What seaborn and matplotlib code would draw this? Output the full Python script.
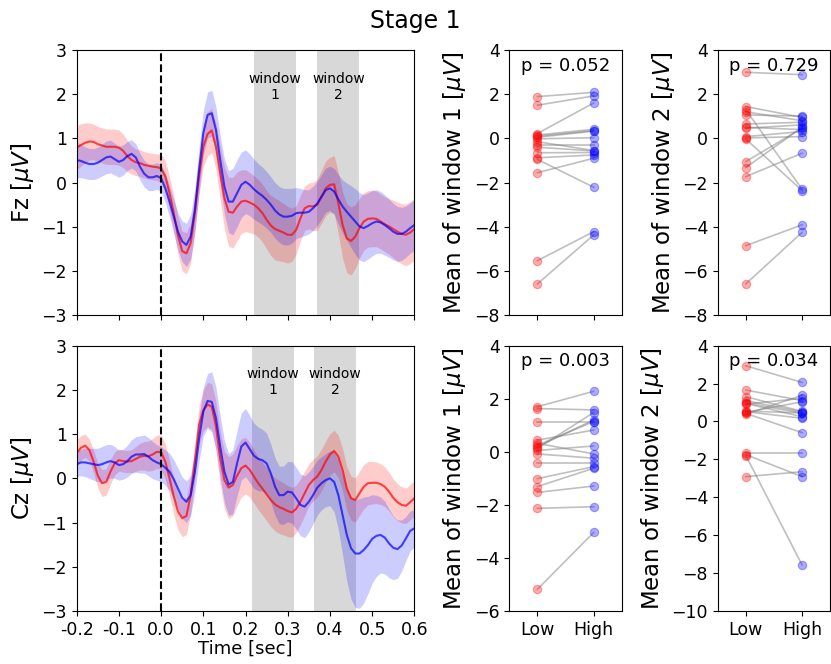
import numpy as np
import seaborn as sns
import matplotlib
matplotlib.use('Agg')
import matplotlib.pyplot as plt

# sample times of the averaged waveforms (sec)
times = np.linspace(-0.2, 0.6, 81)

# ---- Fz grand averages (uV) and their error band half widths ----
fz_low = [0.79, 0.85, 0.90, 0.93, 0.92, 0.87, 0.84, 0.81, 0.81, 0.81,
          0.79, 0.72, 0.60, 0.51, 0.46, 0.44, 0.40, 0.38, 0.36, 0.35,
          0.32, 0.14, -0.24, -0.69, -1.20, -1.55, -1.60, -1.37, -0.69, 0.14,
          0.81, 1.10, 1.18, 0.81, 0.21, -0.35, -0.66, -0.68, -0.54, -0.43,
          -0.41, -0.45, -0.50, -0.58, -0.69, -0.84, -0.97, -1.05, -1.09, -1.13,
          -1.18, -1.18, -1.07, -0.81, -0.58, -0.53, -0.54, -0.50, -0.32, -0.13,
          -0.05, -0.04, -0.47, -0.96, -1.26, -1.32, -1.22, -1.03, -0.88, -0.82,
          -0.81, -0.82, -0.88, -0.94, -0.99, -1.05, -1.11, -1.16, -1.18, -1.13,
          -1.05]
fz_high = [0.51, 0.49, 0.45, 0.42, 0.42, 0.45, 0.51, 0.57, 0.59, 0.53,
           0.47, 0.51, 0.60, 0.65, 0.57, 0.36, 0.20, 0.12, 0.12, 0.15,
           0.10, -0.13, -0.43, -0.77, -1.11, -1.33, -1.41, -1.22, -0.62, 0.29,
           1.12, 1.53, 1.57, 1.19, 0.51, -0.09, -0.43, -0.43, -0.24, -0.05,
           0.02, -0.05, -0.15, -0.23, -0.30, -0.39, -0.50, -0.63, -0.72, -0.77,
           -0.77, -0.75, -0.69, -0.68, -0.68, -0.66, -0.58, -0.47, -0.32, -0.17,
           -0.13, -0.20, -0.38, -0.54, -0.66, -0.77, -0.88, -0.99, -1.03, -0.98,
           -0.92, -0.88, -0.90, -0.96, -1.03, -1.11, -1.16, -1.16, -1.11, -1.03,
           -0.96]
fz_low_err = [0.50, 0.48, 0.45, 0.42, 0.40, 0.40, 0.40, 0.40, 0.40, 0.40,
              0.40, 0.38, 0.35, 0.32, 0.30, 0.30, 0.30, 0.30, 0.30, 0.30,
              0.32, 0.35, 0.38, 0.40, 0.42, 0.45, 0.47, 0.45, 0.42, 0.40,
              0.45, 0.50, 0.50, 0.52, 0.60, 0.70, 0.78, 0.80, 0.78, 0.72,
              0.70, 0.68, 0.66, 0.65, 0.65, 0.66, 0.68, 0.70, 0.68, 0.66,
              0.64, 0.60, 0.55, 0.52, 0.50, 0.52, 0.55, 0.58, 0.60, 0.62,
              0.62, 0.65, 0.70, 0.75, 0.78, 0.77, 0.72, 0.68, 0.65, 0.64,
              0.64, 0.63, 0.62, 0.62, 0.63, 0.65, 0.67, 0.68, 0.70, 0.70,
              0.70]
fz_high_err = [0.40, 0.38, 0.36, 0.35, 0.35, 0.35, 0.36, 0.37, 0.37, 0.36,
               0.35, 0.34, 0.33, 0.32, 0.31, 0.30, 0.30, 0.30, 0.30, 0.30,
               0.30, 0.32, 0.35, 0.38, 0.42, 0.46, 0.49, 0.50, 0.50, 0.50,
               0.50, 0.52, 0.52, 0.52, 0.55, 0.62, 0.70, 0.75, 0.76, 0.74,
               0.72, 0.70, 0.68, 0.66, 0.65, 0.64, 0.63, 0.63, 0.63, 0.64,
               0.64, 0.62, 0.58, 0.55, 0.52, 0.50, 0.50, 0.50, 0.50, 0.50,
               0.50, 0.52, 0.56, 0.60, 0.65, 0.70, 0.74, 0.76, 0.76, 0.75,
               0.74, 0.72, 0.70, 0.68, 0.66, 0.64, 0.62, 0.60, 0.58, 0.57,
               0.57]

# ---- Cz grand averages (uV) and their error band half widths ----
cz_low = [0.57, 0.69, 0.74, 0.64, 0.38, 0.06, -0.11, -0.08, 0.15, 0.34,
          0.41, 0.39, 0.38, 0.39, 0.44, 0.49, 0.51, 0.50, 0.54, 0.60,
          0.59, 0.38, 0.00, -0.41, -0.75, -0.90, -0.85, -0.38, 0.38, 1.21,
          1.54, 1.67, 1.62, 1.17, 0.45, -0.04, -0.21, -0.15, 0.06, 0.23,
          0.29, 0.19, 0.04, -0.11, -0.23, -0.36, -0.49, -0.59, -0.65, -0.69,
          -0.74, -0.77, -0.69, -0.53, -0.34, -0.15, -0.04, 0.04, 0.19, 0.38,
          0.54, 0.62, 0.49, 0.19, -0.23, -0.45, -0.49, -0.34, -0.19, -0.11,
          -0.10, -0.10, -0.13, -0.19, -0.30, -0.44, -0.54, -0.60, -0.62, -0.54,
          -0.45]
cz_high = [0.32, 0.36, 0.36, 0.34, 0.32, 0.30, 0.32, 0.36, 0.39, 0.36,
           0.30, 0.32, 0.39, 0.49, 0.54, 0.54, 0.55, 0.49, 0.41, 0.36,
           0.32, 0.24, 0.15, -0.02, -0.23, -0.44, -0.53, -0.38, 0.15, 0.90,
           1.51, 1.75, 1.73, 1.36, 0.72, 0.15, -0.14, -0.08, 0.34, 0.72,
           0.81, 0.66, 0.51, 0.44, 0.41, 0.34, 0.11, -0.19, -0.38, -0.38,
           -0.30, -0.32, -0.45, -0.60, -0.64, -0.53, -0.38, -0.21, -0.11, -0.04,
           0.00, -0.08, -0.38, -0.83, -1.28, -1.58, -1.70, -1.70, -1.62, -1.51,
           -1.37, -1.30, -1.28, -1.34, -1.47, -1.57, -1.60, -1.52, -1.36, -1.19,
           -1.13]
cz_low_err = [0.30, 0.28, 0.26, 0.25, 0.26, 0.28, 0.30, 0.30, 0.28, 0.26,
              0.25, 0.25, 0.25, 0.26, 0.28, 0.30, 0.32, 0.34, 0.36, 0.38,
              0.39, 0.40, 0.40, 0.41, 0.42, 0.42, 0.42, 0.42, 0.42, 0.44,
              0.46, 0.50, 0.52, 0.55, 0.60, 0.65, 0.70, 0.70, 0.68, 0.66,
              0.64, 0.62, 0.60, 0.60, 0.60, 0.60, 0.60, 0.60, 0.60, 0.59,
              0.58, 0.56, 0.54, 0.52, 0.50, 0.48, 0.47, 0.47, 0.47, 0.47,
              0.47, 0.47, 0.48, 0.48, 0.49, 0.50, 0.50, 0.50, 0.50, 0.49,
              0.48, 0.47, 0.46, 0.45, 0.44, 0.43, 0.42, 0.41, 0.40, 0.40,
              0.40]
cz_high_err = [0.28, 0.30, 0.32, 0.34, 0.36, 0.38, 0.40, 0.40, 0.38, 0.36,
               0.34, 0.34, 0.36, 0.38, 0.40, 0.42, 0.43, 0.43, 0.42, 0.40,
               0.40, 0.40, 0.42, 0.44, 0.46, 0.47, 0.47, 0.46, 0.46, 0.50,
               0.55, 0.62, 0.68, 0.70, 0.70, 0.70, 0.70, 0.72, 0.74, 0.76,
               0.77, 0.76, 0.74, 0.72, 0.70, 0.68, 0.66, 0.65, 0.65, 0.66,
               0.68, 0.70, 0.70, 0.70, 0.70, 0.68, 0.65, 0.62, 0.60, 0.60,
               0.62, 0.68, 0.78, 0.90, 1.05, 1.15, 1.22, 1.24, 1.20, 1.10,
               1.00, 0.92, 0.86, 0.82, 0.78, 0.72, 0.66, 0.58, 0.50, 0.45,
               0.42]

# analysis windows (sec)
fz_windows = [(0.22, 0.32), (0.37, 0.47)]
cz_windows = [(0.215, 0.315), (0.362, 0.462)]

# ---- per subject window means (uV) ----
fz_w1_low = [1.89, 1.50, 0.22, 0.15, 0.05, -0.02, -0.30, -0.40, -0.65, -0.88, -0.95, -1.55, -5.53, -6.58, 0.10, -0.15]
fz_w1_high = [2.08, 1.92, 1.60, 0.41, 0.33, 0.03, -0.30, -0.57, -0.64, -0.75, -2.21, -0.90, -4.22, -4.37, 0.35, -0.55]
fz_w2_low = [2.99, 1.44, 1.29, 1.06, 0.65, 0.46, 0.08, 0.02, -0.03, -1.05, -1.32, -1.73, -4.85, -6.58, 1.20, 0.50]
fz_w2_high = [2.88, 0.95, -2.30, 1.01, 0.73, 0.61, 0.31, 0.08, -2.36, 0.46, 0.50, -0.67, -3.91, -4.25, 0.80, 0.40]
cz_w1_low = [1.70, 1.63, 1.14, 0.44, 0.32, 0.19, 0.13, 0.25, -0.08, -0.43, -1.01, -1.31, -1.53, -2.13, -5.18, 0.05]
cz_w1_high = [2.28, 1.58, 1.14, 0.82, -0.08, 1.20, 1.48, 1.14, -0.24, -0.43, -0.56, -0.62, -1.29, -2.07, -3.04, 0.22]
cz_w2_low = [2.94, 1.66, 1.31, 0.99, 0.92, 0.52, 0.43, 0.39, 0.55, 0.48, 0.95, -1.68, -1.75, -1.80, -2.91, 1.10]
cz_w2_high = [2.06, 1.10, 0.53, 0.43, 1.22, 0.17, -0.59, 1.38, 0.45, 1.04, 0.25, -1.68, -2.91, -7.57, -2.65, 0.50]

p_values = ['0.052', '0.729', '0.003', '0.034']
cond_labels = ['Low', 'High']
time_ticks = [-0.2, -0.1, 0.0, 0.1, 0.2, 0.3, 0.4, 0.5, 0.6]
time_ticklabels = ['-0.2', '-0.1', '0.0', '0.1', '0.2', '0.3', '0.4', '0.5', '0.6']

fig = plt.figure(figsize=(8.31, 6.64), dpi=100)
fig.suptitle('Stage 1', fontsize=17, y=0.968, va='center')

TICK = 12.5
LAB = 16.5

rows = [
    ('Fz', fz_low, fz_high, fz_low_err, fz_high_err, fz_windows, 0.5252,
     [(fz_w1_low, fz_w1_high, p_values[0], (-8, 4)), (fz_w2_low, fz_w2_high, p_values[1], (-8, 4))]),
    ('Cz', cz_low, cz_high, cz_low_err, cz_high_err, cz_windows, 0.0798,
     [(cz_w1_low, cz_w1_high, p_values[2], (-6, 4)), (cz_w2_low, cz_w2_high, p_values[3], (-10, 4))]),
]

for r, (chan, low, high, low_err, high_err, wins, bottom, scat) in enumerate(rows):
    ax = fig.add_axes([0.0923, bottom, 0.4063, 0.3996])
    for i, (a, b) in enumerate(wins):
        ax.axvspan(a, b, color='gray', alpha=0.3, lw=0)
        ax.text((a + b) / 2, 2.17, 'window\n%d' % (i + 1), ha='center', va='center',
                fontsize=10, multialignment='center')
    low = np.array(low)
    high = np.array(high)
    ax.fill_between(times, low - np.array(low_err), low + np.array(low_err), color='red', alpha=0.2, lw=0)
    ax.fill_between(times, high - np.array(high_err), high + np.array(high_err), color='blue', alpha=0.2, lw=0)
    sns.lineplot(x=times, y=low, ax=ax, color='red', alpha=0.7, lw=1.5)
    sns.lineplot(x=times, y=high, ax=ax, color='blue', alpha=0.7, lw=1.5)
    ax.axvline(0, color='k', ls='--', lw=1.5)
    ax.set_xlim(-0.2, 0.6)
    ax.set_ylim(-3, 3)
    ax.set_yticks([-3, -2, -1, 0, 1, 2, 3])
    ax.set_xticks(time_ticks)
    if r == 1:
        ax.set_xticklabels(time_ticklabels)
        ax.set_xlabel('Time [sec]', fontsize=13, labelpad=1)
    else:
        ax.set_xticklabels([])
    ax.set_ylabel(chan + r' [$\mu V$]', fontsize=LAB)
    ax.tick_params(labelsize=TICK)

    for j, (wl, wh, p, ylim) in enumerate(scat):
        left = 0.6129 if j == 0 else 0.8637
        sax = fig.add_axes([left, bottom, 0.1353, 0.3996])
        for a, b in zip(wl, wh):
            sax.plot([0, 1], [a, b], color='gray', alpha=0.5, lw=1.2, zorder=1)
        sns.scatterplot(x=[0] * len(wl), y=wl, ax=sax, color='red', edgecolor='red',
                        alpha=0.33, s=36, linewidth=0.8, zorder=2)
        sns.scatterplot(x=[1] * len(wh), y=wh, ax=sax, color='blue', edgecolor='blue',
                        alpha=0.33, s=36, linewidth=0.8, zorder=2)
        sax.set_xlim(-0.5, 1.5)
        sax.set_ylim(*ylim)
        sax.set_yticks(np.arange(ylim[0], ylim[1] + 1, 2))
        sax.set_xticks([0, 1])
        if r == 1:
            sax.set_xticklabels(cond_labels)
        else:
            sax.set_xticklabels([])
        sax.set_ylabel('Mean of window %d' % (j + 1) + r' [$\mu V$]', fontsize=LAB)
        sax.text(0.5, 0.975, 'p = ' + p, transform=sax.transAxes, ha='center', va='top', fontsize=13)
        sax.tick_params(labelsize=TICK)

fig.savefig('out.png', dpi=100)
